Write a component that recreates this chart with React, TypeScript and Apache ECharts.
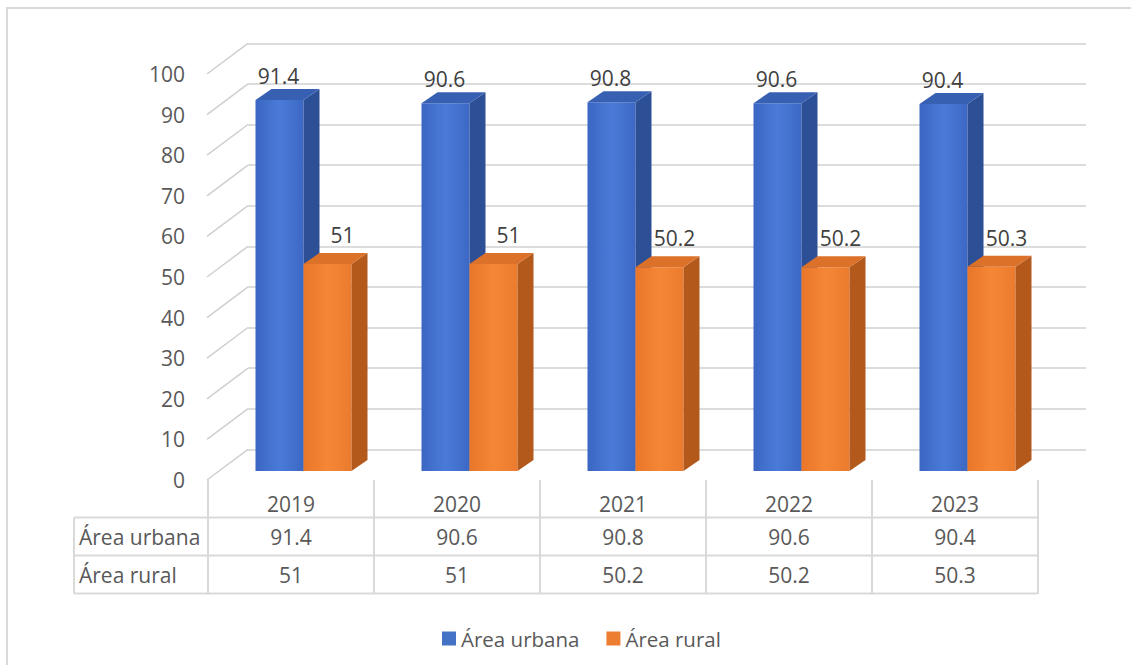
import React, { useEffect, useRef } from "react";
import * as echarts from "echarts";

const years = ["2019", "2020", "2021", "2022", "2023"];
const urbana = [91.4, 90.6, 90.8, 90.6, 90.4];
const rural = [51, 51, 50.2, 50.2, 50.3];
const seriesNames = ["Área urbana", "Área rural"];
const yTicks = [0, 10, 20, 30, 40, 50, 60, 70, 80, 90, 100];

const FONT = "'Open Sans', sans-serif";
const TXT = "#595959";
const GRID_C = "#d0d0d0";
const TABLE_C = "#d9d9d9";

const palette = [
  {
    legend: "#4472C4",
    front: ["#3b66c2", "#4a7bd9", "#3c68c4"],
    side: "#2c4f95",
    top: "#3760b3",
    labelDx: -1,
    labelDy: 24,
  },
  {
    legend: "#ED7D31",
    front: ["#ea7629", "#f48736", "#ec7b2d"],
    side: "#b3591c",
    top: "#dc7129",
    labelDx: 15,
    labelDy: 29,
  },
];

export default function App() {
  const ref = useRef<HTMLDivElement>(null);
  useEffect(() => {
    const chart = echarts.init(ref.current!, null, { renderer: "svg" });
    const BW = 48;
    const DX = 16;
    const DY = 11;

    const barSeries = (si: number, values: number[]) => ({
      type: "custom",
      name: seriesNames[si],
      xAxisIndex: 0,
      yAxisIndex: 0,
      clip: false,
      itemStyle: { color: palette[si].legend },
      data: values.map((v, i) => [i, v]),
      encode: { x: 0, y: 1 },
      renderItem: (params: any, api: any) => {
        const i = api.value(0);
        const v = api.value(1);
        const top = api.coord([i, v]);
        const bot = api.coord([i, 0]);
        const p = palette[si];
        const x0 = top[0] - BW + si * BW;
        const x1 = x0 + BW;
        const yt = top[1];
        const yb = bot[1];
        return {
          type: "group",
          children: [
            {
              type: "rect",
              shape: { x: x0, y: yt, width: BW, height: yb - yt },
              style: {
                fill: new echarts.graphic.LinearGradient(0, 0, 1, 0, [
                  { offset: 0, color: p.front[0] },
                  { offset: 0.5, color: p.front[1] },
                  { offset: 1, color: p.front[2] },
                ]),
              },
            },
            {
              type: "polygon",
              shape: { points: [[x1, yt], [x1 + DX, yt - DY], [x1 + DX, yb - DY], [x1, yb]] },
              style: { fill: p.side },
            },
            {
              type: "polygon",
              shape: { points: [[x0, yt], [x0 + DX, yt - DY], [x1 + DX, yt - DY], [x1, yt]] },
              style: { fill: p.top },
            },
            {
              type: "text",
              style: {
                text: String(v),
                x: (x0 + x1) / 2 + p.labelDx,
                y: yt - p.labelDy,
                align: "center",
                verticalAlign: "middle",
                fontFamily: FONT,
                fontSize: 21,
                fill: "#404040",
              },
            },
          ],
        };
      },
    });

    const option: any = {
      animation: false,
      backgroundColor: "#ffffff",
      grid: [
        { left: 220.5, top: 65, width: 830, height: 406 },
        { left: 248, top: 43.3, width: 838, height: 406 },
        { left: 207, top: 74, width: 830, height: 406 },
      ],
      xAxis: [
        { gridIndex: 0, type: "category", data: years, show: false },
        { gridIndex: 1, type: "value", min: 0, max: 1, show: false },
        { gridIndex: 2, type: "value", min: 0, max: 1, show: false },
      ],
      yAxis: [
        { gridIndex: 0, type: "value", min: 0, max: 100, interval: 10, show: false },
        {
          gridIndex: 1,
          type: "value",
          min: 0,
          max: 100,
          interval: 10,
          axisLabel: { show: false },
          axisLine: { show: false },
          axisTick: { show: false },
          splitLine: { show: true, lineStyle: { color: GRID_C, width: 1.5 } },
        },
        {
          gridIndex: 2,
          type: "value",
          min: 0,
          max: 100,
          interval: 10,
          axisLine: { show: false },
          axisTick: { show: false },
          splitLine: { show: false },
          axisLabel: { margin: 22, fontFamily: FONT, fontSize: 21, color: TXT },
        },
      ],
      legend: {
        data: seriesNames,
        left: 437,
        top: 623,
        icon: "rect",
        itemWidth: 14,
        itemHeight: 14,
        itemGap: 27,
        textStyle: { fontFamily: FONT, fontSize: 20.5, color: TXT },
      },
      series: [
        {
          type: "custom",
          name: "slant",
          xAxisIndex: 2,
          yAxisIndex: 2,
          clip: false,
          silent: true,
          data: yTicks.map((v) => [0, v]),
          renderItem: (params: any, api: any) => {
            const pt = api.coord([0, api.value(1)]);
            return {
              type: "line",
              shape: { x1: pt[0], y1: pt[1], x2: pt[0] + 41, y2: pt[1] - 30.7 },
              style: { stroke: GRID_C, lineWidth: 1.5 },
            };
          },
        },
        barSeries(0, urbana),
        barSeries(1, rural),
        {
          type: "custom",
          name: "table",
          xAxisIndex: 0,
          yAxisIndex: 0,
          clip: false,
          silent: true,
          data: years.map((y, i) => [i, urbana[i], rural[i]]),
          renderItem: (params: any, api: any) => {
            const i = api.value(0);
            const cx = api.coord([i, 0])[0] - 12.5;
            const half = 83;
            const txt = (t: string, y: number) => ({
              type: "text",
              style: {
                text: t,
                x: cx,
                y,
                align: "center",
                verticalAlign: "middle",
                fontFamily: FONT,
                fontSize: 21,
                fill: TXT,
              },
            });
            const children: any[] = [
              {
                type: "line",
                shape: { x1: cx + half, y1: 480, x2: cx + half, y2: 594 },
                style: { stroke: TABLE_C, lineWidth: 2 },
              },
              txt(years[i], 504),
              txt(String(api.value(1)), 536.5),
              txt(String(api.value(2)), 574.5),
            ];
            if (i === 0) {
              children.push({
                type: "line",
                shape: { x1: cx - half, y1: 480, x2: cx - half, y2: 594 },
                style: { stroke: TABLE_C, lineWidth: 2 },
              });
            }
            return { type: "group", children };
          },
        },
      ],
      graphic: [
        {
          type: "rect",
          shape: { x: 7, y: 8, width: 1300, height: 800 },
          style: { fill: "none", stroke: TABLE_C, lineWidth: 2 },
          silent: true,
        },
        ...[517.5, 555.5, 593.5].map((y) => ({
          type: "line",
          shape: { x1: 74, y1: y, x2: 1037, y2: y },
          style: { stroke: TABLE_C, lineWidth: 2 },
          silent: true,
        })),
        {
          type: "line",
          shape: { x1: 74, y1: 517.5, x2: 74, y2: 593.5 },
          style: { stroke: TABLE_C, lineWidth: 2 },
          silent: true,
        },
        ...seriesNames.map((n, k) => ({
          type: "text",
          x: 79,
          y: k === 0 ? 536.5 : 574.5,
          style: {
            text: n,
            align: "left",
            verticalAlign: "middle",
            fontFamily: FONT,
            fontSize: 21,
            fill: TXT,
          },
          silent: true,
        })),
      ],
    };
    chart.setOption(option);
    return () => chart.dispose();
  }, []);
  return (
    <div
      ref={ref}
      style={{ position: "absolute", left: 0, top: 0, width: 1131, height: 665, background: "#fff" }}
    />
  );
}
